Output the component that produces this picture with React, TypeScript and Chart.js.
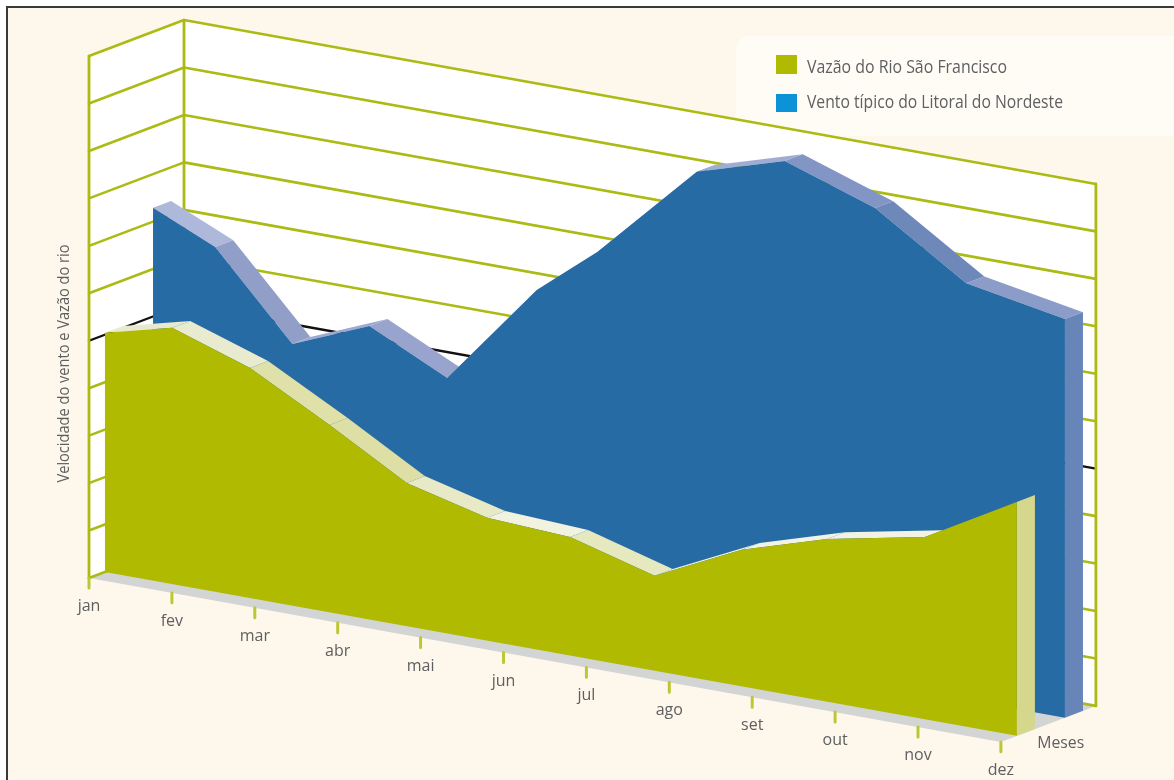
import React, { useEffect, useRef } from "react";
import { Chart, registerables } from "chart.js";

Chart.register(...registerables);

// Month names along the front edge of the floor
const monthLabels = ["jan", "fev", "mar", "abr", "mai", "jun", "jul", "ago", "set", "out", "nov", "dez"];
const gridLevels = [0, 1, 2, 3, 4, 6, 7, 8, 9, 10, 11];
const referenceLevel = 5;

// River flow: position along the month axis, and height
const flowMonths = [0, 0.81, 1.75, 2.71, 3.64, 4.61, 5.61, 6.63, 7.68, 8.71, 9.89, 11];
const flowValues = [5.04, 5.4, 4.85, 3.95, 3.02, 2.59, 2.5, 2.0, 2.88, 3.43, 3.84, 4.93];

// Typical coastal wind: position along the month axis, and height
const windMonths = [0, 0.75, 1.68, 2.61, 3.55, 4.63, 5.36, 6.56, 7.62, 8.71, 9.81, 11];
const windValues = [7.29, 6.7, 4.95, 5.62, 4.82, 7.01, 8.04, 10.11, 10.67, 10.02, 8.78, 8.4];

const legendLabels = ["Vazão do Rio São Francisco", "Vento típico do Litoral do Nordeste"];
const axisTitle = "Velocidade do vento e Vazão do rio";
const depthAxisLabel = "Meses";

// Oblique view: one month and one level in pixels, and the shear of the two receding directions
const MONTH_PX = 82.9;
const LEVEL_PX = 47.45;
const ORIGIN_X = 89;
const ORIGIN_Y = 578;
const MONTH_DROP = 14.9;
const DEPTH_X = 95;
const DEPTH_Y = 36;
const LAST_MONTH = 11;
const TOP_LEVEL = 11;

const FLOW_DEPTH = 0.168;
const WIND_DEPTH = 0.674;
const SLAB = 0.19;

const GRID = "#ACBA14";
const FLOOR = "#D3D4D4";
const FLOW = "#B0BA00";
const WIND = "#276BA5";
const TEXT = "#5E5F61";
const FLOW_EDGE = ["#E8EACF", "#E9EBD0", "#DFE1A8", "#DEDFA5", "#E8E9C6", "#F2F2E0", "#E6E8C0", "#F2F3E2", "#F3F3E3", "#F3F3E3", "#E8EACF"];
const WIND_EDGE = ["#AEB8DA", "#919FC8", "#9CA9D0", "#98A4CD", "#8C9CC8", "#8C9CC8", "#8C9CC8", "#A0ACD2", "#8395C4", "#6E88BA", "#8C9CC8"];
const FLOW_CAP = "#D5D78C";
const WIND_CAP = "#6785B8";

const project = (month: number, level: number, depth: number) => ({
  x: month + (depth * DEPTH_X) / MONTH_PX,
  y: level - (month * MONTH_DROP) / LEVEL_PX + (depth * DEPTH_Y) / LEVEL_PX,
});

const polygon = (color: string, data: { x: number; y: number }[]) => ({
  data,
  polygon: true,
  backgroundColor: color,
  showLine: false,
  pointRadius: 0,
});

const stroke = (color: string, width: number, data: { x: number; y: number }[]) => ({
  data,
  borderColor: color,
  borderWidth: width,
  showLine: true,
  fill: false,
  pointRadius: 0,
  tension: 0,
  borderCapStyle: "round",
  borderJoinStyle: "round",
});

// One solid area: slanted top faces first, then the end cap, then the front face
const solid = (
  months: number[],
  values: number[],
  depth: number,
  front: string,
  edges: string[],
  cap: string,
) => {
  const out: any[] = [];
  const n = months.length - 1;
  for (let i = 0; i < n; i++) {
    out.push(
      polygon(edges[i], [
        project(months[i], values[i], depth),
        project(months[i + 1], values[i + 1], depth),
        project(months[i + 1], values[i + 1], depth + SLAB),
        project(months[i], values[i], depth + SLAB),
      ]),
    );
  }
  out.push(
    polygon(cap, [
      project(months[n], 0, depth),
      project(months[n], values[n], depth),
      project(months[n], values[n], depth + SLAB),
      project(months[n], 0, depth + SLAB),
    ]),
  );
  out.push(
    polygon(front, [
      project(months[0], 0, depth),
      ...months.map((m, i) => project(m, values[i], depth)),
      project(months[n], 0, depth),
    ]),
  );
  return out;
};

const wallLine = (level: number, color: string, width: number) =>
  stroke(color, width, [project(0, level, 0), project(0, level, 1), project(LAST_MONTH, level, 1)]);

const datasets: any[] = [
  polygon("#FFFFFF", [project(0, 0, 0), project(0, 0, 1), project(0, TOP_LEVEL, 1), project(0, TOP_LEVEL, 0)]),
  polygon("#FFFFFF", [
    project(0, 0, 1),
    project(LAST_MONTH, 0, 1),
    project(LAST_MONTH, TOP_LEVEL, 1),
    project(0, TOP_LEVEL, 1),
  ]),
  polygon(FLOOR, [project(0, 0, 0), project(LAST_MONTH, 0, 0), project(LAST_MONTH, 0, 1), project(0, 0, 1)]),
  ...gridLevels.map((level) => wallLine(level, GRID, 2.6)),
  wallLine(referenceLevel, "#111111", 2.4),
  stroke(GRID, 2.8, [project(0, 0, 0), project(0, TOP_LEVEL, 0)]),
  stroke(GRID, 2.8, [project(0, 0, 1), project(0, TOP_LEVEL, 1)]),
  stroke(GRID, 2.8, [project(LAST_MONTH, 0, 1), project(LAST_MONTH, TOP_LEVEL, 1)]),
  ...monthLabels.map((_, m) => stroke("#BCC636", 3, [project(m, 0, 0), project(m, -0.21, 0)])),
  ...solid(windMonths, windValues, WIND_DEPTH, WIND, WIND_EDGE, WIND_CAP),
  ...solid(flowMonths, flowValues, FLOW_DEPTH, FLOW, FLOW_EDGE, FLOW_CAP),
];
datasets.forEach((ds, i) => {
  ds.order = -i;
});

const roundedPanel = (ctx: CanvasRenderingContext2D, x: number, y: number, w: number, h: number, r: number) => {
  ctx.beginPath();
  ctx.moveTo(x + r, y);
  ctx.lineTo(x + w, y);
  ctx.lineTo(x + w, y + h);
  ctx.lineTo(x + r, y + h);
  ctx.quadraticCurveTo(x, y + h, x, y + h - r);
  ctx.lineTo(x, y + r);
  ctx.quadraticCurveTo(x, y, x + r, y);
  ctx.closePath();
};

// Fills the datasets flagged as polygons from the points the scales placed
const polygonPlugin = {
  id: "polygonFill",
  beforeDatasetDraw(chart: any, args: any) {
    const ds = chart.data.datasets[args.index];
    if (!ds.polygon) return;
    const { ctx } = chart;
    ctx.save();
    ctx.fillStyle = ds.backgroundColor;
    ctx.beginPath();
    args.meta.data.forEach((pt: any, i: number) => (i ? ctx.lineTo(pt.x, pt.y) : ctx.moveTo(pt.x, pt.y)));
    ctx.closePath();
    ctx.fill();
    ctx.restore();
  },
};

const labelPlugin = {
  id: "printedLabels",
  beforeDatasetsDraw(chart: any) {
    const { ctx } = chart;
    ctx.save();
    ctx.fillStyle = "#FFFCF5";
    roundedPanel(ctx, 736, 36, 438, 100, 16);
    ctx.fill();
    ctx.restore();
  },
  afterDatasetsDraw(chart: any) {
    const { ctx, scales } = chart;
    const px = (p: { x: number; y: number }) => ({
      x: scales.x.getPixelForValue(p.x),
      y: scales.y.getPixelForValue(p.y),
    });
    ctx.save();
    ctx.fillStyle = TEXT;
    ctx.textBaseline = "middle";
    ctx.textAlign = "center";
    ctx.font = '16px "Open Sans"';
    monthLabels.forEach((label, m) => {
      const p = px(project(m, -0.6, 0));
      ctx.fillText(label, p.x, p.y);
    });
    const meses = px(project(LAST_MONTH, -0.52, 0.63));
    ctx.fillText(depthAxisLabel, meses.x, meses.y, 47);

    ctx.save();
    ctx.translate(64, 363.5);
    ctx.rotate(-Math.PI / 2);
    ctx.font = '17px "Open Sans"';
    ctx.fillText(axisTitle, 0, 0, 238);
    ctx.restore();

    ctx.textAlign = "left";
    ctx.font = '18px "Open Sans"';
    ctx.fillText(legendLabels[0], 807, 68, 200);
    ctx.fillText(legendLabels[1], 807, 103, 256);
    ctx.fillStyle = FLOW;
    ctx.fillRect(776, 55, 21, 19);
    ctx.fillStyle = "#0C92D6";
    ctx.fillRect(776, 94, 21, 18);
    ctx.restore();
  },
};

export default function App() {
  const canvasRef = useRef<HTMLCanvasElement>(null);

  useEffect(() => {
    const chart = new Chart(canvasRef.current as HTMLCanvasElement, {
      type: "scatter",
      data: { datasets },
      options: {
        animation: false,
        responsive: false,
        events: [],
        layout: { padding: 0 },
        plugins: { legend: { display: false }, tooltip: { enabled: false } },
        scales: {
          x: {
            type: "linear",
            display: false,
            bounds: "data",
            min: -ORIGIN_X / MONTH_PX,
            max: (1174 - ORIGIN_X) / MONTH_PX,
          },
          y: {
            type: "linear",
            display: false,
            bounds: "data",
            min: (ORIGIN_Y - 780) / LEVEL_PX,
            max: ORIGIN_Y / LEVEL_PX,
          },
        },
      },
      plugins: [polygonPlugin, labelPlugin],
    } as any);
    return () => chart.destroy();
  }, []);

  return (
    <div style={{ position: "fixed", left: 0, top: 0, width: 1174, height: 780, background: "#FFFFFF", overflow: "hidden" }}>
      <div
        style={{
          position: "absolute",
          left: 6,
          top: 6,
          right: 0,
          bottom: 0,
          background: "#FEF8EC",
          borderLeft: "2px solid #3A3A3A",
          borderTop: "2px solid #3A3A3A",
        }}
      />
      <canvas ref={canvasRef} width={1174} height={780} style={{ position: "absolute", left: 0, top: 0, display: "block" }} />
    </div>
  );
}
